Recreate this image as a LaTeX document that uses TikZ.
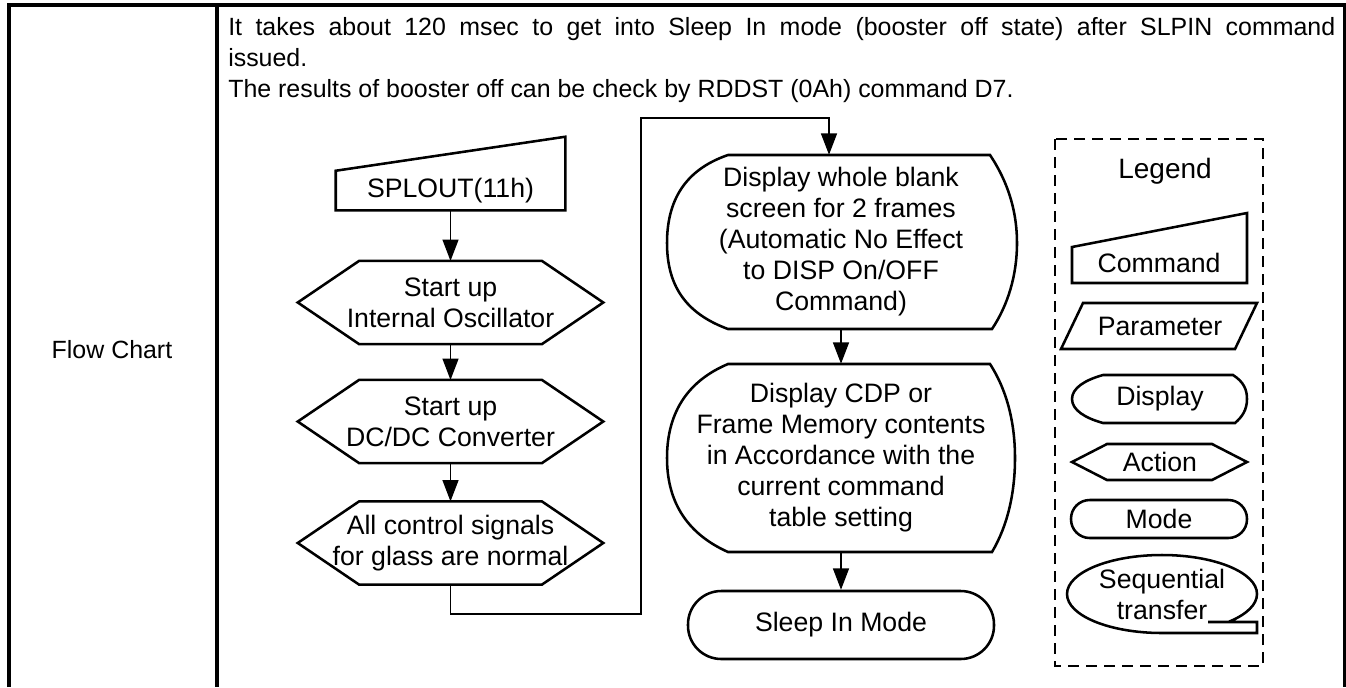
\documentclass[tikz,border=0pt]{standalone}
\usepackage{fontspec}
\setmainfont{Liberation Sans}
\usetikzlibrary{arrows.meta,calc}
\begin{document}
\begin{tikzpicture}[x=0.75pt,y=-0.75pt,
  shp/.style={line width=1.9pt},
  con/.style={line width=1pt},
  arr/.style={con,-{Triangle[length=16pt,width=12pt]}},
  ft/.style={inner sep=0pt, align=center, font=\fontsize{20}{23.25}\selectfont},
  hd/.style={inner sep=0pt, font=\fontsize{18.7}{23.25}\selectfont},
  hexn/.style={ft, minimum width=228.75pt, minimum height=62pt},
  dispn/.style={ft, minimum width=262pt},
  frame/.style={line width=2.6pt},
  legbox/.style={line width=1.6pt, dash pattern=on 8.5pt off 5pt},
]
\useasboundingbox (0,0) rectangle (1346,687);
% table frame
\draw[frame] (9,687) -- (9,5) -- (1344.5,5) -- (1344.5,687);
\draw[frame] (217,5) -- (217,687);
\node[hd] (fc) at (112,350) {Flow Chart};
% header text
\node[hd, anchor=base west] (t1) at (228,35) {\makebox[830.25pt][s]{It takes about 120 msec to get into Sleep In mode (booster off state) after SLPIN command}};
\node[hd, anchor=base west] (t2) at (228,66) {issued.};
\node[hd, anchor=base west] (t3) at (228,97) {The results of booster off can be check by RDDST (0Ah) command D7.};
% command
\node[ft, minimum width=171.75pt, minimum height=29.25pt] (cmd) at (450.5,190.5) {SPLOUT(11h)};
\draw[shp] (cmd.south west) -- (cmd.north west) -- ([yshift=25.5pt]cmd.north east) -- (cmd.south east) -- cycle;
% hexagons
\node[hexn] (h1) at (450.5,302.5) {Start up\\Internal Oscillator};
\node[hexn] (h2) at (450.5,421.5) {Start up\\DC/DC Converter};
\node[hexn] (h3) at (450.5,543) {All control signals\\for glass are normal};
\foreach \n in {h1,h2,h3}{
  \draw[shp] (\n.west) -- ([xshift=46pt]\n.north west) -- ([xshift=-46pt]\n.north east) -- (\n.east)
    -- ([xshift=-46pt]\n.south east) -- ([xshift=46pt]\n.south west) -- cycle;
}
% display shapes
\node[dispn, minimum height=130.5pt] (d1) at (841,242) {Display whole blank\\screen for 2 frames\\(Automatic No Effect\\to DISP On/OFF\\Command)};
\draw[shp] (728,155) -- (990,155) .. controls (1010,185) and (1017,215) .. (1017,243)
  .. controls (1017,275) and (1008,305) .. (992,329) -- (728,329)
  .. controls (690,315) and (667,290) .. (667,243) .. controls (667,195) and (690,168) .. (728,155) -- cycle;
\node[dispn, minimum height=141pt] (d2) at (841,458) {Display CDP or\\Frame Memory contents\\in Accordance with the\\current command\\table setting};
\draw[shp] (728,364) -- (990,364) .. controls (1008,392) and (1015,425) .. (1015,458)
  .. controls (1015,492) and (1008,525) .. (992,552) -- (728,552)
  .. controls (690,535) and (667,505) .. (667,458) .. controls (667,410) and (690,380) .. (728,364) -- cycle;
\node[ft, draw, shp, rounded corners=25pt, minimum width=229.5pt, minimum height=51pt] (sleep) at (841,625) {Sleep In Mode};
% connectors
\coordinate (c1) at (641,614);
\coordinate (c2) at (829,118);
\draw[arr] (cmd.south) -- (h1.north);
\draw[arr] (h1.south) -- (h2.north);
\draw[arr] (h2.south) -- (h3.north);
\draw[arr] (h3.south) |- (c1) |- (c2) -- (c2 |- d1.north);
\draw[arr] (d1.south) -- (d2.north);
\draw[arr] (d2.south) -- (sleep.north);
% legend
\draw[legbox] (1055,139) rectangle (1263,666);
\node[inner sep=0pt, font=\fontsize{21}{25}\selectfont] (lg) at (1165,171) {Legend};
\node[ft] (lcmd) at (1159,263) {Command};
\draw[shp] (1072,283) -- (1072,247) -- (1247,213) -- (1247,283) -- cycle;
\node[ft] (lpar) at (1160,326) {Parameter};
\draw[shp] (1083,303) -- (1257,303) -- (1235,349) -- (1061,349) -- cycle;
\node[ft] (ldisp) at (1160,399) {Display};
\draw[shp] (1103,375) -- (1233,375) .. controls (1244,382) and (1247,390) .. (1247,399)
  .. controls (1247,410) and (1242,417) .. (1235,423) -- (1103,423)
  .. controls (1085,418) and (1072,410) .. (1072,399) .. controls (1072,388) and (1085,380) .. (1103,375) -- cycle;
\node[ft] (lact) at (1160,462) {Action};
\draw[shp] (1072,462) -- (1107,444) -- (1212,444) -- (1247,462) -- (1212,480) -- (1107,480) -- cycle;
\node[ft, draw, shp, rounded corners=14pt, minimum width=132pt, minimum height=28.5pt] (lmode) at (1159,519) {Mode};
\node[ft] (lseq) at (1162,594) {Sequential\\transfer};
\draw[shp] (1208,622) -- (1257,622) -- (1257,633) -- (1162,633) arc[start angle=90, end angle=405, x radius=95, y radius=39];
\end{tikzpicture}
\end{document}
